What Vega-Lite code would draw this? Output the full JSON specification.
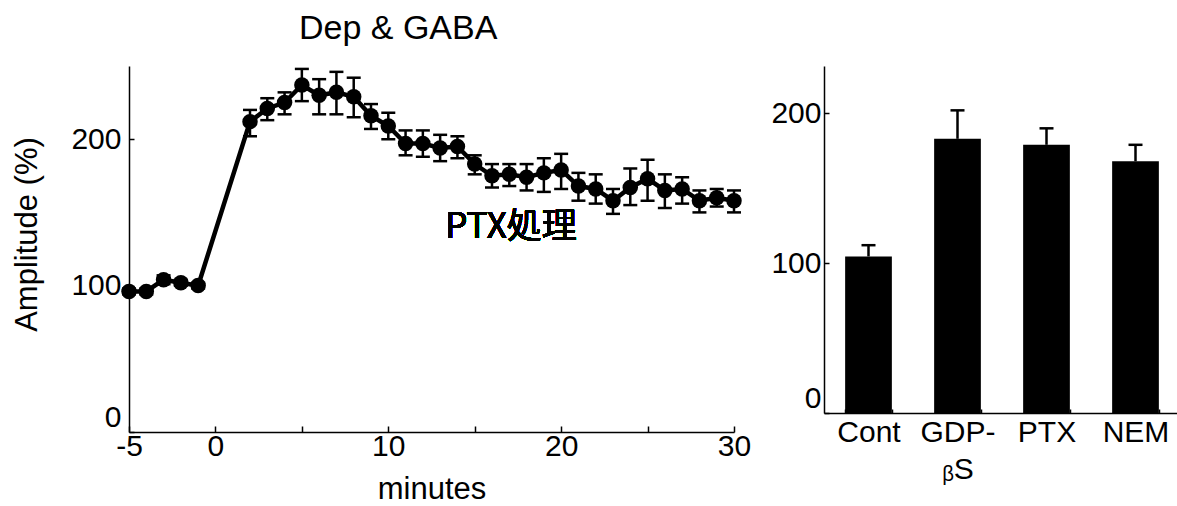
{
  "$schema": "https://vega.github.io/schema/vega-lite/v6.json",
  "background": "white",
  "padding": {"left": 11, "top": 12, "right": 0, "bottom": 0},
  "title": {"text": "Dep & GABA", "anchor": "start", "dx": 287, "offset": 20, "fontSize": 34, "font": "Liberation Sans", "fontWeight": "normal", "color": "black"},
  "config": {
    "view": {"stroke": null},
    "axis": {"domainColor": "black", "domainWidth": 1.5, "tickColor": "black", "tickWidth": 1.5, "labelColor": "black", "labelFont": "Liberation Sans", "labelFontSize": 30, "titleFont": "Liberation Sans", "titleFontSize": 31, "titleFontWeight": "normal", "titleColor": "black", "grid": false}
  },
  "spacing": 19,
  "hconcat": [
    {
      "width": 605,
      "height": 366,
      "data": {"values": [
        {"t": -5, "v": 96, "lo": 94, "hi": 98},
        {"t": -4, "v": 96, "lo": 94, "hi": 98},
        {"t": -3, "v": 104, "lo": 101, "hi": 107},
        {"t": -2, "v": 102, "lo": 100, "hi": 104},
        {"t": -1, "v": 100, "lo": 98, "hi": 102},
        {"t": 2, "v": 212, "lo": 202, "hi": 220},
        {"t": 3, "v": 221, "lo": 213, "hi": 228},
        {"t": 4, "v": 225, "lo": 217, "hi": 232},
        {"t": 5, "v": 237, "lo": 226, "hi": 248},
        {"t": 6, "v": 230, "lo": 217, "hi": 241},
        {"t": 7, "v": 232, "lo": 217, "hi": 246},
        {"t": 8, "v": 229, "lo": 215, "hi": 242},
        {"t": 9, "v": 216, "lo": 207, "hi": 224},
        {"t": 10, "v": 209, "lo": 200, "hi": 218},
        {"t": 11, "v": 197, "lo": 189, "hi": 206},
        {"t": 12, "v": 197, "lo": 188, "hi": 206},
        {"t": 13, "v": 194, "lo": 185, "hi": 203},
        {"t": 14, "v": 195, "lo": 187, "hi": 202},
        {"t": 15, "v": 183, "lo": 176, "hi": 189},
        {"t": 16, "v": 175, "lo": 167, "hi": 183},
        {"t": 17, "v": 176, "lo": 168, "hi": 183},
        {"t": 18, "v": 174, "lo": 165, "hi": 183},
        {"t": 19, "v": 177, "lo": 164, "hi": 187},
        {"t": 20, "v": 179, "lo": 166, "hi": 190},
        {"t": 21, "v": 168, "lo": 158, "hi": 177},
        {"t": 22, "v": 166, "lo": 156, "hi": 176},
        {"t": 23, "v": 158, "lo": 149, "hi": 166},
        {"t": 24, "v": 167, "lo": 155, "hi": 180},
        {"t": 25, "v": 173, "lo": 158, "hi": 186},
        {"t": 26, "v": 165, "lo": 153, "hi": 176},
        {"t": 27, "v": 166, "lo": 156, "hi": 174},
        {"t": 28, "v": 158, "lo": 150, "hi": 165},
        {"t": 29, "v": 160, "lo": 154, "hi": 166},
        {"t": 30, "v": 158, "lo": 150, "hi": 165}
      ]},
      "layer": [
        {
          "mark": {"type": "rule", "strokeWidth": 2.5, "color": "black"},
          "encoding": {
            "x": {"field": "t", "type": "quantitative",
                  "scale": {"domain": [-5, 30], "nice": false, "zero": false},
                  "axis": {"values": [-5, 0, 5, 10, 15, 20, 25, 30], "tickSize": -6, "labelPadding": 5,
                           "labelExpr": "datum.value == -5 ? '-5' : (datum.value % 10 == 0 ? datum.label : '')",
                           "title": "minutes", "titlePadding": 13, "labelFlush": false}},
            "y": {"field": "lo", "type": "quantitative",
                  "scale": {"domain": [0, 250], "nice": false},
                  "axis": {"values": [0, 100, 200], "tickSize": -5, "labelPadding": 13, "labelFlush": true, "labelFlushOffset": 0,
                           "title": "Amplitude (%)", "titlePadding": 27, "titleY": 168}},
            "y2": {"field": "hi"}
          }
        },
        {
          "mark": {"type": "tick", "orient": "horizontal", "size": 14, "thickness": 2.5, "color": "black", "opacity": 1},
          "encoding": {"x": {"field": "t", "type": "quantitative"}, "y": {"field": "hi", "type": "quantitative"}}
        },
        {
          "mark": {"type": "tick", "orient": "horizontal", "size": 14, "thickness": 2.5, "color": "black", "opacity": 1},
          "encoding": {"x": {"field": "t", "type": "quantitative"}, "y": {"field": "lo", "type": "quantitative"}}
        },
        {
          "mark": {"type": "line", "strokeWidth": 4.5, "color": "black"},
          "encoding": {"x": {"field": "t", "type": "quantitative"}, "y": {"field": "v", "type": "quantitative"}}
        },
        {
          "mark": {"type": "circle", "size": 240, "opacity": 1, "color": "black"},
          "encoding": {"x": {"field": "t", "type": "quantitative"}, "y": {"field": "v", "type": "quantitative"}}
        },
        {
          "mark": {"type": "text", "text": "PTX処理", "font": "Noto Sans CJK JP", "fontSize": 35, "align": "left", "baseline": "middle", "color": "black"},
          "encoding": {"x": {"datum": 13.3, "type": "quantitative"}, "y": {"datum": 140, "type": "quantitative"}}
        }
      ]
    },
    {
      "width": 356,
      "height": 347,
      "data": {"values": [
        {"c": "Cont", "v": 104.5, "hi": 112},
        {"c": "GDP-βS", "v": 183, "hi": 202},
        {"c": "PTX", "v": 179, "hi": 190},
        {"c": "NEM", "v": 168, "hi": 179}
      ]},
      "layer": [
        {
          "mark": {"type": "rule", "strokeWidth": 2.5, "color": "black"},
          "encoding": {
            "x": {"field": "c", "type": "nominal", "sort": null,
                  "scale": {"paddingInner": 0.475, "paddingOuter": 0.2375},
                  "axis": {"labelAngle": 0, "tickBand": "extent", "tickSize": -4, "labelPadding": 8, "labelLineHeight": 37,
                           "labelExpr": "datum.value == 'GDP-βS' ? ['GDP-', 'ᵦS'] : datum.label", "title": null}},
            "y": {"field": "v", "type": "quantitative",
                  "scale": {"domain": [0, 231.6], "nice": false},
                  "axis": {"values": [0, 100, 200], "tickSize": -5, "labelPadding": 8, "labelFlush": true, "title": null}},
            "y2": {"field": "hi"}
          }
        },
        {
          "mark": {"type": "tick", "orient": "horizontal", "size": 14, "thickness": 2.5, "color": "black", "opacity": 1},
          "encoding": {"x": {"field": "c", "type": "nominal", "sort": null}, "y": {"field": "hi", "type": "quantitative"}}
        },
        {
          "mark": {"type": "bar", "color": "black"},
          "encoding": {"x": {"field": "c", "type": "nominal", "sort": null}, "y": {"field": "v", "type": "quantitative"}}
        }
      ]
    }
  ]
}
